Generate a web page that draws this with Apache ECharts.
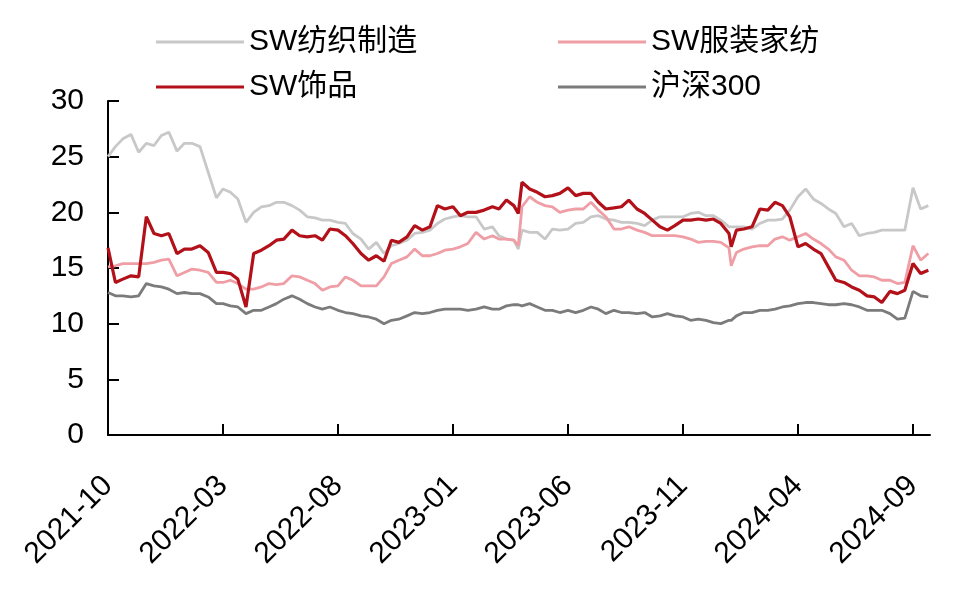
<!DOCTYPE html>
<html>
<head>
<meta charset="utf-8">
<script src="https://cdn.jsdelivr.net/npm/echarts@6/dist/echarts.min.js"></script>
<style>
  html, body { margin: 0; padding: 0; background: #fff; }
  #chart { width: 980px; height: 597px; }
</style>
</head>
<body>
<div id="chart"></div>
<script>
// 日期（约每10天一个点，外加两处跳变附近的点）
var dates = [
  '2021-10-01', '2021-10-11', '2021-10-21',
  '2021-11-01', '2021-11-11', '2021-11-21',
  '2021-12-01', '2021-12-11', '2021-12-21',
  '2022-01-01', '2022-01-11', '2022-01-21',
  '2022-02-01', '2022-02-11', '2022-02-21',
  '2022-03-01', '2022-03-11', '2022-03-21',
  '2022-04-01', '2022-04-11', '2022-04-21',
  '2022-05-01', '2022-05-11', '2022-05-21',
  '2022-06-01', '2022-06-11', '2022-06-21',
  '2022-07-01', '2022-07-11', '2022-07-21',
  '2022-08-01', '2022-08-11', '2022-08-21',
  '2022-09-01', '2022-09-11', '2022-09-21',
  '2022-10-01', '2022-10-11', '2022-10-21',
  '2022-11-01', '2022-11-11', '2022-11-21',
  '2022-12-01', '2022-12-11', '2022-12-21',
  '2023-01-01', '2023-01-11', '2023-01-21',
  '2023-02-01', '2023-02-11', '2023-02-21',
  '2023-03-01', '2023-03-11', '2023-03-21', '2023-03-27',
  '2023-04-01', '2023-04-11', '2023-04-21',
  '2023-05-01', '2023-05-11', '2023-05-21',
  '2023-06-01', '2023-06-11', '2023-06-21',
  '2023-07-01', '2023-07-11', '2023-07-21',
  '2023-08-01', '2023-08-11', '2023-08-21',
  '2023-09-01', '2023-09-11', '2023-09-21',
  '2023-10-01', '2023-10-11', '2023-10-21',
  '2023-11-01', '2023-11-11', '2023-11-21',
  '2023-12-01', '2023-12-11', '2023-12-21',
  '2024-01-01', '2024-01-04', '2024-01-11', '2024-01-21',
  '2024-02-01', '2024-02-11', '2024-02-21',
  '2024-03-01', '2024-03-11', '2024-03-21',
  '2024-04-01', '2024-04-11', '2024-04-21',
  '2024-05-01', '2024-05-11', '2024-05-21',
  '2024-06-01', '2024-06-11', '2024-06-21',
  '2024-07-01', '2024-07-11', '2024-07-21',
  '2024-08-01', '2024-08-11', '2024-08-21',
  '2024-09-01', '2024-09-11', '2024-09-21'
];

// SW纺织制造
var textile = [
  25.0, 25.9, 26.6,  27.0, 25.4, 26.2,  26.0, 26.9, 27.2,
  25.5, 26.2, 26.2,  25.9, 23.6, 21.3,  22.1, 21.8, 21.2,
  19.1, 20.0, 20.5,  20.6, 20.9, 20.9,  20.6, 20.2, 19.6,
  19.5, 19.3, 19.3,  19.1, 19.0, 18.1,  17.6, 16.7, 17.3,
  16.3, 17.0, 17.2,  17.5, 18.1, 18.2,  18.4, 19.0, 19.4,
  19.6, 19.7, 19.6,  19.6, 18.5, 18.7,  17.9, 17.6, 17.5, 16.7,
  18.4, 18.2, 18.2,  17.6, 18.5, 18.4,  18.5, 19.0, 19.1,
  19.6, 19.7, 19.4,  19.3, 19.1, 19.1,  19.0, 18.8, 19.3,
  19.6, 19.6, 19.6,  19.6, 19.9, 20.0,  19.7, 19.7, 19.3,
  18.7, 18.7, 18.7, 18.7,  18.5, 19.0, 19.3,  19.3, 19.4, 20.2,
  21.4, 22.1, 21.2,  20.8, 20.3, 19.9,  18.7, 19.0, 17.9,
  18.1, 18.2, 18.4,  18.4, 18.4, 18.4,  22.2, 20.3, 20.6
];

// SW服装家纺
var apparel = [
  15.1, 15.2, 15.4,  15.4, 15.4, 15.4,  15.5, 15.7, 15.8,
  14.3, 14.6, 14.9,  14.8, 14.6, 13.7,  13.7, 13.9, 13.6,
  13.1, 13.1, 13.3,  13.6, 13.5, 13.6,  14.3, 14.2, 13.9,
  13.6, 13.0, 13.3,  13.4, 14.2, 13.9,  13.4, 13.4, 13.4,
  14.2, 15.4, 15.7,  16.0, 16.7, 16.1,  16.1, 16.3, 16.6,
  16.7, 16.9, 17.2,  18.2, 17.6, 17.9,  17.6, 17.6, 17.5, 17.0,
  20.5, 21.4, 20.9,  20.6, 20.5, 20.0,  20.2, 20.3, 20.3,
  20.9, 20.2, 19.6,  18.5, 18.5, 18.7,  18.4, 18.2, 17.9,
  17.9, 17.9, 17.9,  17.8, 17.6, 17.3,  17.4, 17.4, 17.3,
  16.8, 15.2, 16.4, 16.7,  16.9, 17.0, 17.0,  17.6, 17.8, 17.5,
  17.8, 18.1, 17.6,  17.2, 16.7, 16.0,  15.7, 14.8, 14.3,
  14.3, 14.2, 13.9,  13.9, 13.6, 13.7,  17.0, 15.7, 16.3
];

// SW饰品
var jewelry = [
  16.8, 13.7, 14.0,  14.3, 14.2, 19.6,  18.1, 17.9, 18.1,
  16.3, 16.7, 16.7,  17.0, 16.4, 14.6,  14.6, 14.5, 14.0,
  11.5, 16.3, 16.6,  17.0, 17.5, 17.6,  18.4, 17.9, 17.8,
  17.9, 17.5, 18.5,  18.4, 17.9, 17.2,  16.3, 15.7, 16.1,
  15.6, 17.5, 17.3,  17.8, 18.8, 18.4,  18.7, 20.6, 20.3,
  20.5, 19.7, 20.0,  20.0, 20.2, 20.5,  20.3, 21.1, 20.6, 19.9,
  22.7, 22.1, 21.8,  21.4, 21.5, 21.7,  22.2, 21.5, 21.7,
  21.7, 20.9, 20.3,  20.4, 20.5, 21.1,  20.3, 19.9, 19.3,
  18.7, 18.4, 18.8,  19.3, 19.3, 19.4,  19.3, 19.4, 19.0,
  18.1, 16.9, 18.4, 18.5,  18.7, 20.3, 20.2,  20.9, 20.6, 19.6,
  16.9, 17.2, 16.7,  16.3, 15.1, 13.9,  13.7, 13.3, 13.0,
  12.5, 12.4, 11.9,  12.9, 12.7, 13.0,  15.4, 14.5, 14.8
];

// 沪深300
var hs300 = [
  12.8, 12.5, 12.5,  12.4, 12.5, 13.6,  13.4, 13.3, 13.1,
  12.7, 12.8, 12.7,  12.7, 12.4, 11.8,  11.8, 11.6, 11.5,
  10.9, 11.2, 11.2,  11.5, 11.8, 12.2,  12.5, 12.2, 11.8,
  11.5, 11.3, 11.5,  11.2, 11.0, 10.9,  10.7, 10.6, 10.4,
  10.0, 10.3, 10.4,  10.7, 11.0, 10.9,  11.0, 11.2, 11.3,
  11.3, 11.3, 11.2,  11.3, 11.5, 11.3,  11.3, 11.6, 11.7, 11.7,
  11.6, 11.8, 11.5,  11.2, 11.2, 11.0,  11.2, 11.0, 11.2,
  11.5, 11.3, 10.9,  11.2, 11.0, 11.0,  10.9, 11.0, 10.6,
  10.7, 10.9, 10.7,  10.6, 10.3, 10.4,  10.3, 10.1, 10.0,
  10.3, 10.3, 10.7, 11.0,  11.0, 11.2, 11.2,  11.3, 11.5, 11.6,
  11.8, 11.9, 11.9,  11.8, 11.7, 11.7,  11.8, 11.7, 11.5,
  11.2, 11.2, 11.2,  10.9, 10.4, 10.5,  12.9, 12.5, 12.4
];

var yTicks = { min: 0, max: 30, interval: 5 };
var xStart = { year: 2021, month: 10 };   // 横轴起点：2021-10
var xMonths = 35.74;                       // 横轴长度（月）
var labelStep = 5;                          // 每5个月一个刻度

var FONT = "'Liberation Sans', Arial, 'Noto Sans CJK SC', sans-serif";

// 日期 -> 距起点的月数
function monthIndex(s) {
    var p = s.split('-');
    var y = +p[0], m = +p[1], d = +p[2];
    var dim = new Date(y, m, 0).getDate();
    return (y - xStart.year) * 12 + (m - xStart.month) + (d - 1) / dim;
}
function monthLabel(v) {
    var total = xStart.year * 12 + (xStart.month - 1) + Math.round(v);
    var y = Math.floor(total / 12);
    var m = total % 12 + 1;
    return y + '-' + (m < 10 ? '0' + m : m);
}
function pairs(vals) {
    var out = [];
    for (var i = 0; i < dates.length; i++) {
        out.push([monthIndex(dates[i]), vals[i]]);
    }
    return out;
}

var chart = echarts.init(document.getElementById('chart'));

// 图例：用细长矩形代替线段，不带圆点
var legendBase = {
    orient: 'horizontal',
    padding: 0,
    icon: 'rect',
    itemWidth: 88,
    itemHeight: 3,
    textStyle: { fontFamily: FONT, fontSize: 30, color: '#000' }
};

chart.setOption({
    animation: false,
    backgroundColor: '#fff',
    grid: { left: 108, right: 50, top: 101, bottom: 162, containLabel: false },
    legend: [
        Object.assign({ data: ['SW纺织制造'], left: 156, top: 27 }, legendBase),
        Object.assign({ data: ['SW服装家纺'], left: 558, top: 27 }, legendBase),
        Object.assign({ data: ['SW饰品'], left: 156, top: 72 }, legendBase),
        Object.assign({ data: ['沪深300'], left: 558, top: 72 }, legendBase)
    ],
    xAxis: {
        type: 'value',
        min: 0,
        max: xMonths,
        interval: labelStep,
        axisLine: { lineStyle: { color: '#000', width: 2 } },
        axisTick: { inside: true, length: 11, lineStyle: { color: '#000', width: 2 } },
        splitLine: { show: false },
        axisLabel: {
            rotate: 45,
            margin: 46,
            showMaxLabel: false,
            fontFamily: FONT,
            fontSize: 30,
            color: '#000',
            formatter: function (v) {
                return (Math.abs(v % labelStep) < 1e-6) ? monthLabel(v) : '';
            }
        }
    },
    yAxis: {
        type: 'value',
        min: yTicks.min,
        max: yTicks.max,
        interval: yTicks.interval,
        axisLine: { show: true, lineStyle: { color: '#000', width: 2 } },
        axisTick: { show: true, inside: true, length: 11, lineStyle: { color: '#000', width: 2 } },
        splitLine: { show: false },
        axisLabel: { margin: 24, fontFamily: FONT, fontSize: 30, color: '#000' }
    },
    series: [
        {
            name: 'SW纺织制造', type: 'line', symbol: 'none', data: pairs(textile),
            itemStyle: { color: '#c8c8c8' },
            lineStyle: { color: '#c8c8c8', width: 2.8 }
        },
        {
            name: 'SW服装家纺', type: 'line', symbol: 'none', data: pairs(apparel),
            itemStyle: { color: '#ef9ea6' },
            lineStyle: { color: '#ef9ea6', width: 2.8 }
        },
        {
            name: 'SW饰品', type: 'line', symbol: 'none', data: pairs(jewelry),
            itemStyle: { color: '#b3111a' },
            lineStyle: { color: '#b3111a', width: 3.2 }
        },
        {
            name: '沪深300', type: 'line', symbol: 'none', data: pairs(hs300),
            itemStyle: { color: '#7b7b7b' },
            lineStyle: { color: '#7b7b7b', width: 2.8 }
        }
    ]
});
</script>
</body>
</html>
